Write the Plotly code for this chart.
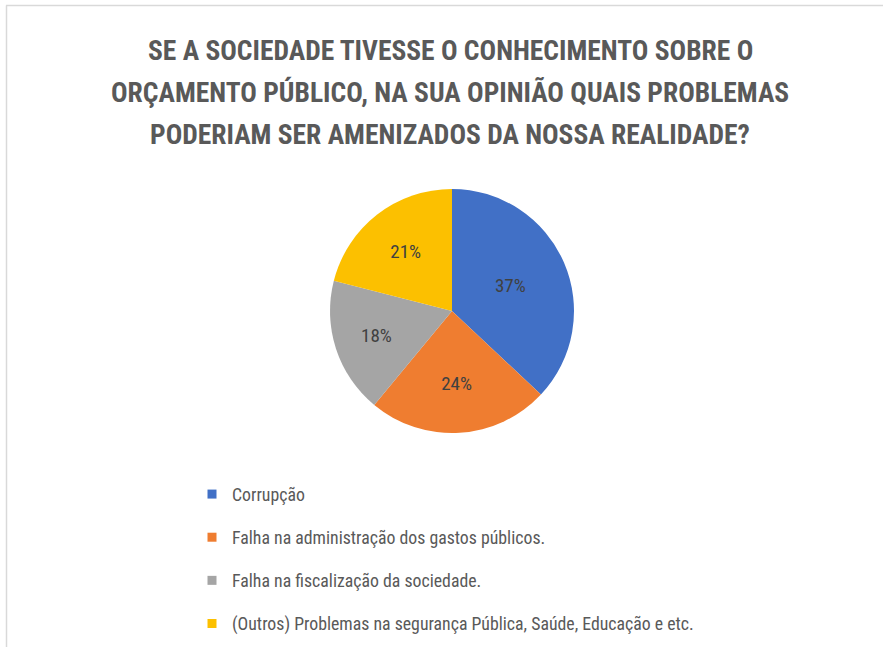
import plotly.graph_objects as go

title_lines = [
    "SE A SOCIEDADE TIVESSE O CONHECIMENTO SOBRE O",
    "ORÇAMENTO PÚBLICO, NA SUA OPINIÃO QUAIS PROBLEMAS",
    "PODERIAM SER AMENIZADOS DA NOSSA REALIDADE?",
]
labels = [
    "Corrupção",
    "Falha na administração dos gastos públicos.",
    "Falha na fiscalização da sociedade.",
    "(Outros) Problemas na segurança Pública, Saúde, Educação e etc.",
]
values = [37, 24, 18, 21]
colors = ["#4170C6", "#EF7D30", "#A5A5A5", "#FCC000"]

W, H = 883, 647
FONT = "Roboto Condensed, Liberation Sans Narrow, Arial Narrow, sans-serif"

def px(x):
    return x / W

def py(y):
    return 1 - y / H

fig = go.Figure()

cx, cy, r = 452, 311, 122
fig.add_trace(go.Pie(
    labels=labels, values=values, sort=False, direction="clockwise", rotation=0,
    marker=dict(colors=colors, line=dict(color="white", width=0)),
    texttemplate="%{percent:.0%}", textposition="inside",
    insidetextfont=dict(family=FONT, size=19, color="#404040"),
    showlegend=False, hoverinfo="label+percent",
    domain=dict(x=[px(cx - r), px(cx + r)], y=[py(cy + r), py(cy - r)]),
))

for i, (lab, col) in enumerate(zip(labels, colors)):
    fig.add_trace(go.Scatter(
        x=[None], y=[None], mode="markers", name=lab,
        marker=dict(symbol="square", size=9, color=col),
        legendgroup=f"g{i}", showlegend=True,
    ))

for i, line in enumerate(title_lines):
    fig.add_annotation(
        text=f"<b>{line}</b>", x=px(450), y=py(51 + i * 41.5), xref="paper", yref="paper",
        showarrow=False, xanchor="center", yanchor="middle",
        font=dict(family=FONT, size=27.5, color="#595959"),
    )

fig.add_shape(type="line", xref="paper", yref="paper",
              x0=px(6), x1=1, y0=py(5.5), y1=py(5.5), line=dict(color="#D9D9D9", width=1.5))
fig.add_shape(type="line", xref="paper", yref="paper",
              x0=px(6.5), x1=px(6.5), y0=py(5.5), y1=0, line=dict(color="#D9D9D9", width=1.5))

fig.update_layout(
    width=W, height=H, margin=dict(l=0, r=0, t=0, b=0),
    paper_bgcolor="white", plot_bgcolor="white",
    xaxis=dict(visible=False), yaxis=dict(visible=False),
    legend=dict(
        x=px(192), y=py(476), xanchor="left", yanchor="top",
        orientation="v", tracegroupgap=17,
        font=dict(family=FONT, size=17.8, color="#595959"),
        bgcolor="rgba(0,0,0,0)",
    ),
)

fig.write_html("out.html")
